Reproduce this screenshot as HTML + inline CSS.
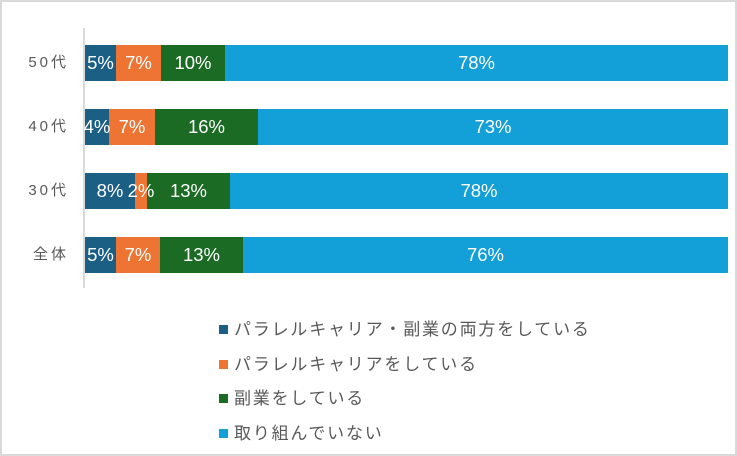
<!DOCTYPE html>
<html><head><meta charset="utf-8"><style>
body{margin:0;width:737px;height:456px;background:#fff;position:relative;overflow:hidden;font-family:"Liberation Sans","Noto Sans CJK JP",sans-serif}
.frame{position:absolute;left:0;top:0;width:733px;height:452px;border:2px solid #d9d9d9}
.ax{position:absolute;left:83px;top:28px;width:2px;height:260px;background:#d9d9d9}
.s{position:absolute;height:36px}
.t{position:absolute;height:36px;color:#fff;font-size:18.5px;line-height:36px;display:flex;justify-content:center;white-space:nowrap;z-index:2}
.lab{position:absolute;left:15px;width:54px;text-align:right;font-size:15px;color:#595959;letter-spacing:3px;line-height:36px}
.lg{position:absolute;left:219px;font-size:17px;color:#595959;letter-spacing:1.8px;line-height:20px}
.lg i{display:inline-block;width:9px;height:9px;margin-right:6px;vertical-align:1px}
.a{background:#1b5f85}.b{background:#ed7433}.c{background:#1b6b24}.d{background:#139fd7}
</style></head><body>
<div class="frame"></div>
<div class="ax"></div>
<div class="lab" style="top:45px">50代</div>
<div class="lab" style="top:109px">40代</div>
<div class="lab" style="top:173px">30代</div>
<div class="lab" style="top:237px">全体</div>

<div class="s a" style="top:45px;left:85px;width:31px"></div><div class="t" style="top:45px;left:85px;width:31px">5%</div>
<div class="s b" style="top:45px;left:116px;width:45px"></div><div class="t" style="top:45px;left:116px;width:45px">7%</div>
<div class="s c" style="top:45px;left:161px;width:64px"></div><div class="t" style="top:45px;left:161px;width:64px">10%</div>
<div class="s d" style="top:45px;left:225px;width:503px"></div><div class="t" style="top:45px;left:225px;width:503px">78%</div>

<div class="s a" style="top:109px;left:85px;width:24px"></div><div class="t" style="top:109px;left:85px;width:24px">4%</div>
<div class="s b" style="top:109px;left:109px;width:46px"></div><div class="t" style="top:109px;left:109px;width:46px">7%</div>
<div class="s c" style="top:109px;left:155px;width:103px"></div><div class="t" style="top:109px;left:155px;width:103px">16%</div>
<div class="s d" style="top:109px;left:258px;width:470px"></div><div class="t" style="top:109px;left:258px;width:470px">73%</div>

<div class="s a" style="top:173px;left:85px;width:50px"></div><div class="t" style="top:173px;left:85px;width:50px">8%</div>
<div class="s b" style="top:173px;left:135px;width:12px"></div><div class="t" style="top:173px;left:135px;width:12px">2%</div>
<div class="s c" style="top:173px;left:147px;width:83px"></div><div class="t" style="top:173px;left:147px;width:83px">13%</div>
<div class="s d" style="top:173px;left:230px;width:498px"></div><div class="t" style="top:173px;left:230px;width:498px">78%</div>

<div class="s a" style="top:237px;left:85px;width:31px"></div><div class="t" style="top:237px;left:85px;width:31px">5%</div>
<div class="s b" style="top:237px;left:116px;width:44px"></div><div class="t" style="top:237px;left:116px;width:44px">7%</div>
<div class="s c" style="top:237px;left:160px;width:83px"></div><div class="t" style="top:237px;left:160px;width:83px">13%</div>
<div class="s d" style="top:237px;left:243px;width:485px"></div><div class="t" style="top:237px;left:243px;width:485px">76%</div>

<div class="lg" style="top:320px"><i class="a"></i>パラレルキャリア・副業の両方をしている</div>
<div class="lg" style="top:355px"><i class="b"></i>パラレルキャリアをしている</div>
<div class="lg" style="top:389px"><i class="c"></i>副業をしている</div>
<div class="lg" style="top:424px"><i class="d"></i>取り組んでいない</div>
</body></html>
